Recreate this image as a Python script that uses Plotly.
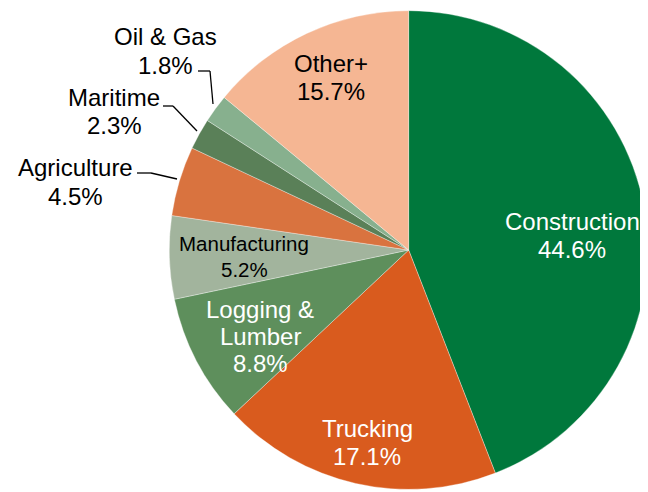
import plotly.graph_objects as go

categories = ["Construction", "Trucking", "Logging & Lumber", "Manufacturing",
              "Agriculture", "Maritime", "Oil & Gas", "Other+"]
label_lines = [["Construction"], ["Trucking"], ["Logging &", "Lumber"], ["Manufacturing"],
               ["Agriculture"], ["Maritime"], ["Oil & Gas"], ["Other+"]]
# percentages printed on the chart
label_percent = [44.6, 17.1, 8.8, 5.2, 4.5, 2.3, 1.8, 15.7]
# slice sizes as drawn in the picture (measured from the wedge angles)
slice_values = [44.1, 18.9, 8.7, 5.6, 4.7, 2.1, 1.9, 14.0]
colors = ["#00783C", "#D95B1E", "#5E8F5C", "#A2B49D",
          "#D9733F", "#5A8058", "#87B08E", "#F5B693"]
text_colors = ["white", "white", "white", "black", "black", "black", "black", "black"]
text_sizes = [24, 24, 24, 20.5, 24, 24, 24, 24]

# page is offset by the 8px default body margin
OFF = 8
W, H = 640, 484
FONT = "Liberation Sans, Arial, sans-serif"

fig = go.Figure(go.Pie(
    labels=categories,
    values=slice_values,
    textinfo="none",
    marker=dict(colors=colors, line=dict(color="rgba(255,255,255,0.55)", width=0.6)),
    sort=False,
    direction="clockwise",
    rotation=0,
    domain=dict(x=[0.252, 1.0], y=[0.0, 1.0]),
    showlegend=False,
    hoverinfo="label",
))

def px(x, y):
    return (x - OFF) / W, 1 - (y - OFF) / H

# label line centres (page px): one (x, y) per text line
label_pos = {
    "Construction": [(572, 221), (572, 249)],
    "Trucking": [(367, 428), (367, 456)],
    "Logging & Lumber": [(260, 309), (260, 336), (260, 363)],
    "Manufacturing": [(244, 244), (244, 269)],
    "Agriculture": [(75, 167), (75, 196)],
    "Maritime": [(114, 97), (114, 126)],
    "Oil & Gas": [(165, 37), (165, 65)],
    "Other+": [(331, 63), (331, 91)],
}
leaders = {
    "Oil & Gas": [(198, 71), (210, 71), (213, 104)],
    "Maritime": [(163, 106), (173, 106), (197, 131)],
    "Agriculture": [(137, 173), (151, 173), (177, 179)],
}

for i, name in enumerate(categories):
    lines = label_lines[i] + [f"{label_percent[i]:.1f}%"]
    for txt, (x, y) in zip(lines, label_pos[name]):
        ax, ay = px(x, y)
        fig.add_annotation(x=ax, y=ay, xref="paper", yref="paper", text=txt,
                           showarrow=False, xanchor="center", yanchor="middle",
                           font=dict(family=FONT, size=text_sizes[i], color=text_colors[i]))

for name, pts in leaders.items():
    for (x0, y0), (x1, y1) in zip(pts[:-1], pts[1:]):
        a0, b0 = px(x0, y0)
        a1, b1 = px(x1, y1)
        fig.add_shape(type="line", xref="paper", yref="paper", x0=a0, y0=b0, x1=a1, y1=b1,
                      line=dict(color="black", width=1.3))

fig.update_layout(
    width=W, height=H,
    margin=dict(l=0, r=0, t=0, b=0),
    paper_bgcolor="white",
    plot_bgcolor="white",
    font=dict(family=FONT),
)

fig.write_html("out.html")
